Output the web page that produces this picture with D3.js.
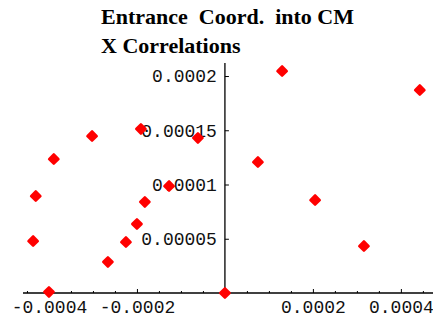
<!DOCTYPE html>
<html>
<head>
<meta charset="utf-8">
<script src="https://cdn.jsdelivr.net/npm/d3@7"></script>
<style>
  body { margin: 0; background: #fff; }
  svg { display: block; }
</style>
</head>
<body>
<figure id="scatter" style="margin:0"></figure>
<script>
// entrance coordinate correlations
const xValues = [0, -0.0004, -0.000436, -0.00043, -0.000389, -0.000302, -0.000266, -0.000225, -0.0002,
  -0.000182, -0.000191, -0.000127, -0.0000614, 0.000075, 0.00013, 0.000205, 0.000316, 0.000443];
const yValues = [0, 0.000001, 0.0000479, 0.0000894, 0.0001235, 0.0001447, 0.0000286, 0.000047, 0.0000636,
  0.0000839, 0.0001512, 0.0000986, 0.0001429, 0.0001207, 0.0002046, 0.0000857, 0.0000433, 0.0001871];

const titleLines = ["Entrance  Coord.  into CM", "X Correlations"];
const xTickValues = [-0.0004, -0.0002, 0.0002, 0.0004];
const xTickLabels = ["-0.0004", "-0.0002", "0.0002", "0.0004"];
const xMinorTicks = [-0.00045, -0.00035, -0.0003, -0.00025, -0.00015, -0.0001, -0.00005,
  0.00005, 0.0001, 0.00015, 0.00025, 0.0003, 0.00035, 0.00045];
const yTickValues = [0.00005, 0.0001, 0.00015, 0.0002];
const yTickLabels = ["0.00005", "0.0001", "0.00015", "0.0002"];

const width = 433;
const height = 321;

const svg = d3.select("figure#scatter")
  .append("svg")
  .attr("width", width)
  .attr("height", height);

const x = d3.scaleLinear()
  .domain([-0.000459, 0.000473])
  .range([23, 433]);

const y = d3.scaleLinear()
  .domain([0, 0.000212])
  .range([293, 63]);

// title
svg.selectAll("text.title")
  .data(titleLines)
  .enter()
  .append("text")
  .attr("class", "title")
  .attr("x", 101)
  .attr("y", (d, i) => 24 + i * 29)
  .style("font-family", "'Liberation Serif', 'Times New Roman', serif")
  .style("font-weight", "bold")
  .style("font-size", "22px")
  .style("white-space", "pre")
  .attr("fill", "#000")
  .text(d => d);

const tickFont = g => g.selectAll("text")
  .style("font-family", "'Liberation Mono', 'Courier New', monospace")
  .style("font-size", "18px")
  .attr("fill", "#111");

// minor x ticks
svg.append("g")
  .attr("transform", "translate(0," + y(0) + ")")
  .call(d3.axisBottom(x).tickValues(xMinorTicks).tickSize(-2).tickFormat(""))
  .call(g => g.select(".domain").remove());

// x axis
svg.append("g")
  .attr("transform", "translate(0," + y(0) + ")")
  .call(d3.axisBottom(x).tickValues(xTickValues).tickSize(-4).tickPadding(7)
    .tickFormat((d, i) => xTickLabels[i]))
  .call(g => g.select(".domain").attr("d", "M" + x.range()[0] + ",0H" + x.range()[1]).attr("stroke-width", 1.3))
  .call(tickFont);

// y axis
svg.append("g")
  .attr("transform", "translate(" + x(0) + ",0)")
  .call(d3.axisLeft(y).tickValues(yTickValues).tickSize(-4).tickPadding(8)
    .tickFormat((d, i) => yTickLabels[i]))
  .call(g => g.select(".domain").attr("d", "M0," + y.range()[1] + "V" + (y(0) + 4)).attr("stroke-width", 1.3))
  .call(tickFont);

// points
const points = xValues.map((v, i) => ({ x: v, y: yValues[i] }));

svg.selectAll("path.pt")
  .data(points)
  .enter()
  .append("path")
  .attr("class", "pt")
  .attr("d", d3.symbol().type(d3.symbolDiamond2).size(55))
  .attr("transform", d => "translate(" + x(d.x) + "," + y(d.y) + ")")
  .attr("fill", "#ff0000")
  .attr("stroke", "#ff0000")
  .attr("stroke-width", 2.5)
  .attr("stroke-linejoin", "round");
</script>
</body>
</html>
